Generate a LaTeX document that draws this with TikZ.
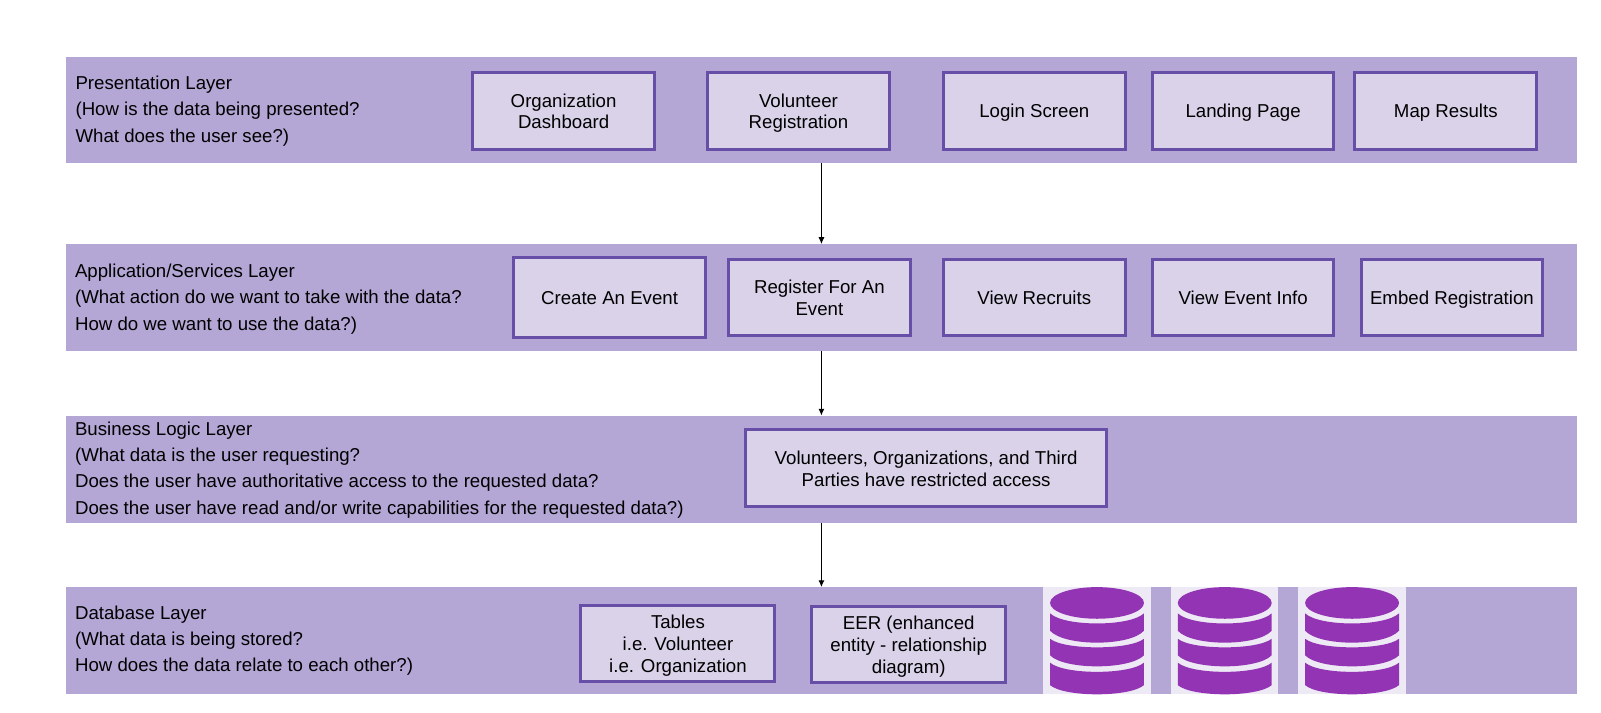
\documentclass[tikz,border=0pt]{standalone}
\usepackage{fontspec}
\setmainfont{Liberation Sans}
\usetikzlibrary{arrows.meta}
\definecolor{bandc}{HTML}{B4A7D6}
\definecolor{boxc}{HTML}{D9D2E9}
\definecolor{edgec}{HTML}{674EA7}
\definecolor{iconc}{HTML}{9334B5}
\definecolor{iconbg}{HTML}{EDE9F5}
\tikzset{
  bandstyle/.style={fill=bandc,draw=none,inner sep=0pt,outer sep=0pt,anchor=north west},
  boxstyle/.style={fill=boxc,draw=edgec,line width=2.2pt,inner sep=2pt,outer sep=0pt,align=center,font=\fontsize{13.7}{16}\selectfont},
  layertext/.style={inner sep=0pt,outer sep=0pt,align=left,anchor=north west,font=\fontsize{13.7}{19.3}\selectfont},
  flow/.style={draw=black,line width=0.8pt,-{Latex[length=5pt,width=4.5pt]}},
  iconfill/.style={fill=iconc,draw=none},
}
\newcommand{\bandat}[3]{\node[bandstyle,minimum width={1479*0.75pt},minimum height={(#3-#2)*0.75pt}] (#1) at (65,#2) {};}
\newcommand{\boxat}[6]{\node[boxstyle,minimum width={(#4-#2-2)*0.75pt},minimum height={(#5-#3-2)*0.75pt}] (#1) at ({(#2+#4)/2},{(#3+#5)/2}) {\rule{0pt}{13.5pt}#6\rule[-3pt]{0pt}{3pt}};}
\begin{document}
\begin{tikzpicture}[x=0.75pt,y=-0.75pt]
\useasboundingbox (0,0) rectangle (1568,698.3);
\fill[white] (0,0) rectangle (1568,698.3);
\bandat{band1}{56}{160}
\bandat{band2}{239}{344}
\bandat{band3}{407}{512}
\bandat{band4}{575}{680}
\node[layertext] (t1) at (74,74.5) {Presentation Layer\\(How is the data being presented?\\What does the user see?)};
\node[layertext] (t2) at (73.5,258.5) {Application/Services Layer\\(What action do we want to take with the data?\\How do we want to use the data?)};
\node[layertext] (t3) at (73.5,413) {Business Logic Layer\\(What data is the user requesting?\\Does the user have authoritative access to the requested data?\\Does the user have read and/or write capabilities for the requested data?)};
\node[layertext] (t4) at (73.5,593) {Database Layer\\(What data is being stored?\\How does the data relate to each other?)};
\boxat{orgdash}{462}{70}{642}{147}{Organization\\Dashboard}
\boxat{volreg}{692}{70}{872}{147}{Volunteer\\Registration}
\boxat{login}{923}{70}{1103}{147}{Login Screen}
\boxat{landing}{1128}{70}{1307}{147}{Landing Page}
\boxat{mapres}{1326}{70}{1506}{147}{Map Results}
\boxat{create}{502}{251}{692}{332}{Create An Event}
\boxat{register}{712}{253}{893}{330}{Register For An\\Event}
\boxat{recruits}{923}{253}{1103}{330}{View Recruits}
\boxat{eventinfo}{1128}{253}{1307}{330}{View Event Info}
\boxat{embed}{1332}{253}{1512}{330}{Embed Registration}
\boxat{access}{729}{420}{1085}{497}{Volunteers, Organizations, and Third\\Parties have restricted access}
\boxat{tables}{568}{592}{760}{668}{Tables\\i.e. Volunteer\\i.e. Organization}
\boxat{eer}{794}{593}{986}{669}{EER (enhanced\\entity - relationship\\diagram)}
\foreach \bgl/\bgr/\cx in {1021.5/1127/1074.4,1147/1251.7/1199.5,1271/1377/1324.2}{
  \fill[iconbg] (\bgl,575) rectangle (\bgr,680);
  \begin{scope}[shift={(\cx,0)}]
    \fill[iconfill] (0,590.5) ellipse [x radius=46,y radius=15.5];
    \fill[iconfill] (-46,600.7) .. controls (-32,613.9) and (32,613.9) .. (46,600.7) -- (46,617.7) .. controls (32,633.3) and (-32,633.3) .. (-46,617.7) -- cycle;
    \fill[iconfill] (-46,625.6) .. controls (-32,636.8) and (32,636.8) .. (46,625.6) -- (46,641.8) .. controls (32,656.2) and (-32,656.2) .. (-46,641.8) -- cycle;
    \fill[iconfill] (-46,649) .. controls (-32,661) and (32,661) .. (46,649) -- (46,671) .. controls (32,683) and (-32,683) .. (-46,671) -- cycle;
  \end{scope}
}
\draw[flow] (band1.south) -- (band2.north);
\draw[flow] (band2.south) -- (band3.north);
\draw[flow] (band3.south) -- (band4.north);
\end{tikzpicture}
\end{document}
